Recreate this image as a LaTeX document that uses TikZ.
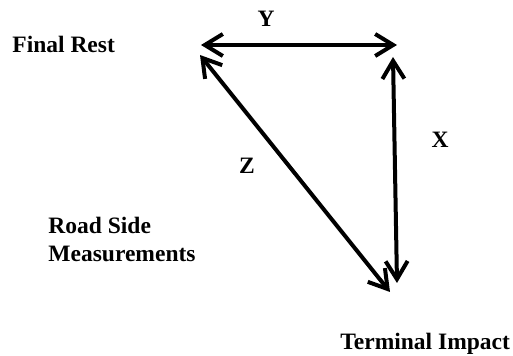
\documentclass[tikz,border=0pt]{standalone}
\usepackage{fontspec}
\setmainfont{Liberation Serif}
\usetikzlibrary{arrows.meta}

\tikzset{
  lbl/.style={font=\fontsize{11.75}{14}\selectfont\bfseries, inner sep=0pt},
  measure/.style={line width=2pt, {Straight Barb[length=9pt,width=11pt]}-{Straight Barb[length=9pt,width=11pt]}}
}

\begin{document}
\begin{tikzpicture}[x=0.5pt,y=-0.5pt]

\useasboundingbox (0,0) rectangle (513,356);

% corners of the triangle
\coordinate (restL) at (201,45);
\coordinate (restR) at (397,45);
\coordinate (restD) at (200,55);
\coordinate (topX) at (393,57);
\coordinate (impX) at (397,283);
\coordinate (impZ) at (390,292);

\draw[measure] (restL) -- (restR);
\draw[measure] (topX) -- (impX);
\draw[measure] (restD) -- (impZ);

\node[lbl, anchor=base west] (rest) at (12,53) {Final Rest};
\node[lbl] (y) at (266,19) {Y};
\node[lbl] (x) at (440,140) {X};
\node[lbl] (z) at (247,166) {Z};
\node[lbl, align=left] (road) at (122,239) {Road Side\\Measurements};
\node[lbl, anchor=base west] (impact) at (340,350) {Terminal Impact};

\end{tikzpicture}
\end{document}
